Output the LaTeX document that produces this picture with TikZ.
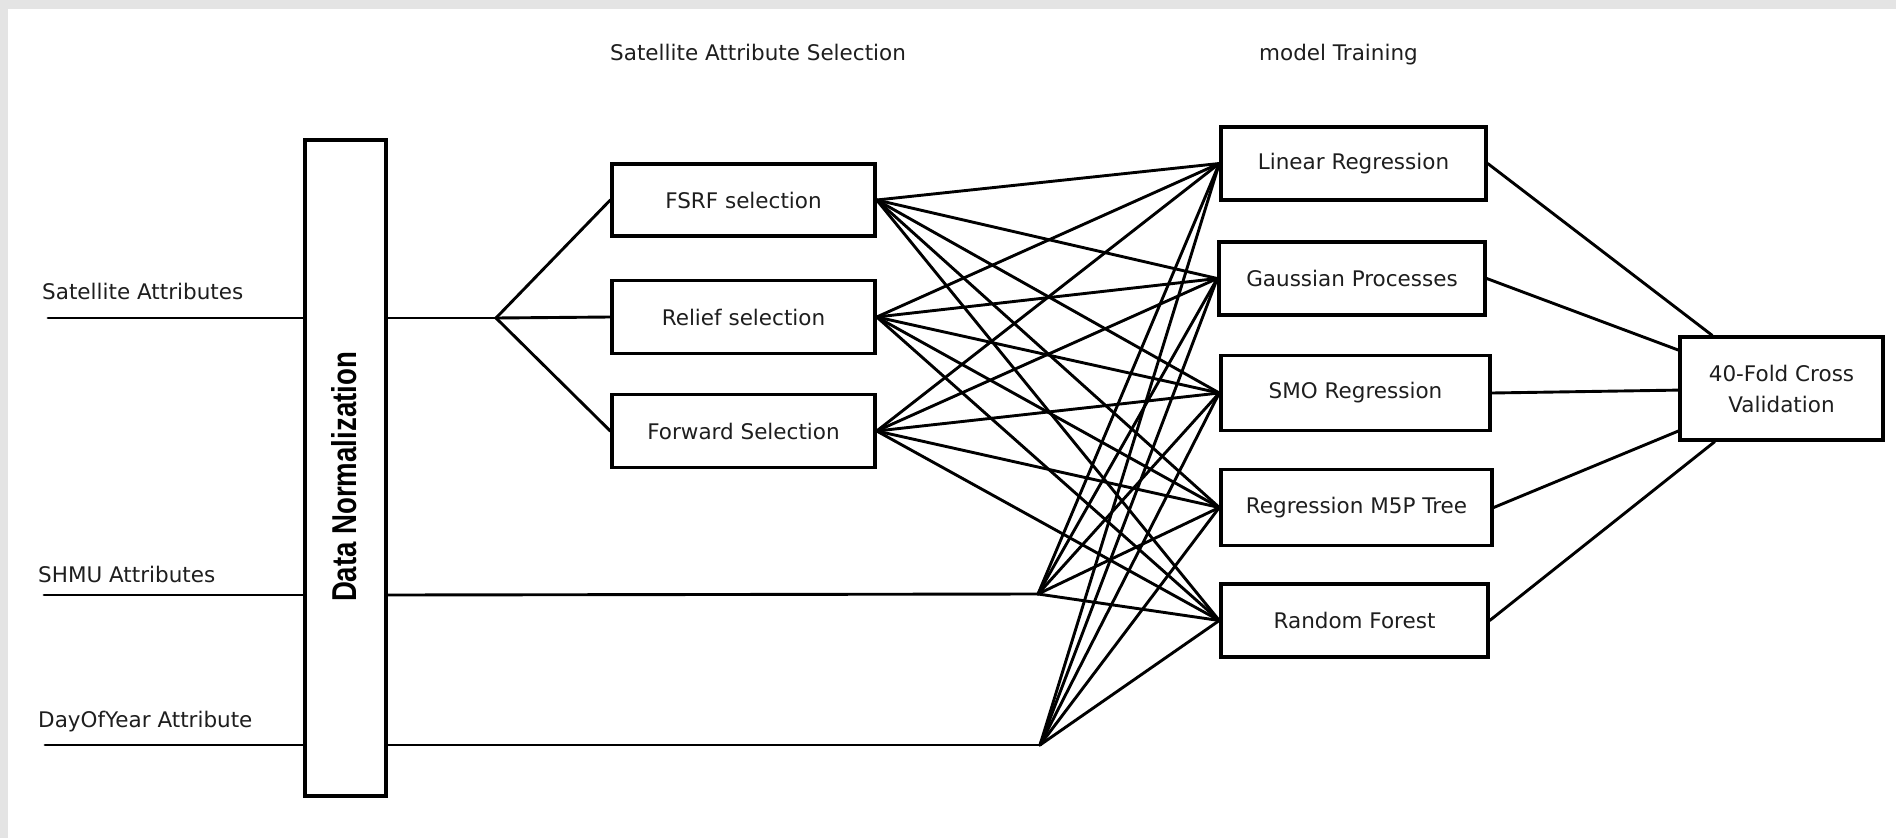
\documentclass[tikz,border=0pt]{standalone}
\usepackage{fontspec}
\setmainfont{DejaVu Sans}
\newfontfamily\dnfont{Liberation Sans}
\usepackage{graphicx}
\definecolor{bordergray}{HTML}{E4E4E4}
\definecolor{txt}{HTML}{1E1E1E}
\newcommand\mylbl{\fontsize{21.5}{31}\selectfont}
\begin{document}
\begin{tikzpicture}[x=1pt,y=-1pt,
  box/.style={draw,line width=3.4pt,inner sep=0pt,align=center,font=\mylbl,text=txt},
  conn/.style={line width=2.9pt,line cap=round},
  lab/.style={anchor=base west,inner sep=0pt,font=\mylbl,text=txt}]
\fill[bordergray] (0,0) rectangle (1896,838);
\fill[white] (8,9) rectangle (1896,838);
\useasboundingbox (0,0) rectangle (1896,838);

% titles and input labels
\node[lab] (t1) at (610,60) {Satellite Attribute Selection};
\node[lab] (t2) at (1259,60) {model Training};
\node[lab] (l1) at (42,299) {Satellite Attributes};
\node[lab] (l2) at (38,582) {SHMU Attributes};
\node[lab] (l3) at (38,727) {DayOfYear Attribute};

% normalization box
\node[box, minimum width=81, minimum height=656] (dn) at (345.5,468) {};
\node[rotate=90, inner sep=0pt] (dnl) at (344,477)
  {\dnfont\bfseries\fontsize{27.6}{30}\selectfont\scalebox{1}[1.25]{Data Normalization}};

% selection boxes
\node[box, minimum width=263, minimum height=72] (fsrf) at (743.5,200) {FSRF selection};
\node[box, minimum width=263, minimum height=73] (rel) at (743.5,317) {Relief selection};
\node[box, minimum width=263, minimum height=73] (fwd) at (743.5,431) {Forward Selection};

% model boxes
\node[box, minimum width=265, minimum height=73] (lr) at (1353.5,163.5) {Linear Regression};
\node[box, minimum width=266, minimum height=73] (gp) at (1352,278.5) {Gaussian Processes};
\node[box, minimum width=269, minimum height=75] (smo) at (1355.5,393) {SMO Regression};
\node[box, minimum width=271, minimum height=76] (m5p) at (1356.5,507.5) {Regression M5P Tree};
\node[box, minimum width=267, minimum height=73] (rf) at (1354.5,620.5) {Random Forest};

% cross validation
\node[box, minimum width=203, minimum height=103] (cv) at (1781.5,388.5) {40-Fold Cross\\Validation};

% coordinates
\coordinate (sa0) at (48,318);
\coordinate (br) at (496,318);
\coordinate (sh0) at (44,595);
\coordinate (sh) at (1038,594);
\coordinate (dy0) at (45,745);
\coordinate (dy) at (1040,745);

% input lines
\draw[conn] (sa0) -- (sa0 -| dn.west);
\draw[conn] (sa0 -| dn.east) -- (br);
\draw[conn] (sh0) -- (sh0 -| dn.west);
\draw[conn] (sh0 -| dn.east) -- (sh);
\draw[conn] (dy0) -- (dy0 -| dn.west);
\draw[conn] (dy0 -| dn.east) -- (dy);

% branch to selections
\draw[conn] (br) -- (fsrf.west);
\draw[conn] (br) -- (rel.west);
\draw[conn] (br) -- (fwd.west);

% selections to models
\foreach \s in {fsrf,rel,fwd}
  \foreach \m in {lr,gp,smo,m5p,rf}
    \draw[conn] (\s.east) -- (\m.west);

% SHMU and DayOfYear to models, models to CV
\foreach \m in {lr,gp,smo,m5p,rf} {
  \draw[conn] (sh) -- (\m.west);
  \draw[conn] (dy) -- (\m.west);
  \draw[conn] (\m.east) -- (cv);
}
\end{tikzpicture}
\end{document}
